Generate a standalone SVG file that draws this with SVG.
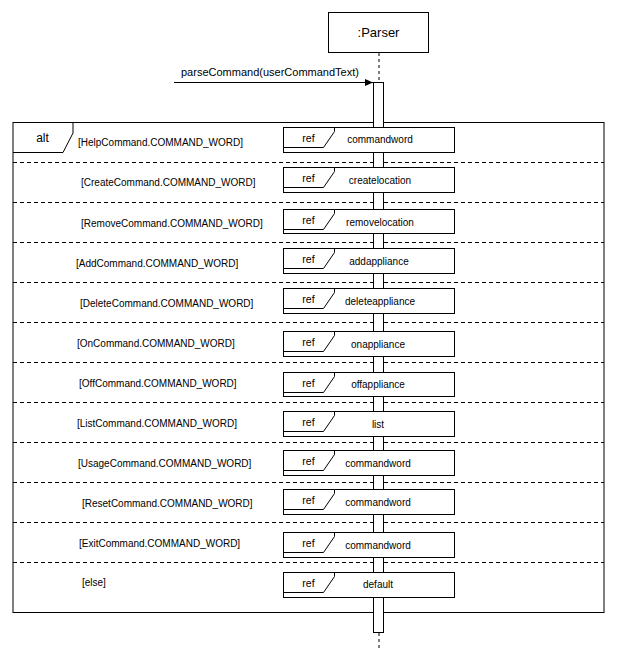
<svg xmlns="http://www.w3.org/2000/svg" width="617" height="661" viewBox="0 0 617 661">
<style>
text{font-family:"Liberation Sans",Arial,sans-serif;fill:#000}
.g{font-size:10px}
.lbl{font-size:10px;text-anchor:middle}
.ref{font-size:10.5px;text-anchor:middle}
.box{fill:#fff;stroke:#000;stroke-width:1}
.sep{stroke:#000;stroke-width:1;stroke-dasharray:4 3;fill:none}
.ln{fill:none;stroke:#000;stroke-width:1}
</style>
<defs>
<marker id="ah" markerWidth="9" markerHeight="8" refX="8" refY="3.5" orient="auto" markerUnits="userSpaceOnUse">
<path d="M0,0 L8,3.5 L0,7 Z" fill="#000"/>
</marker>
<g id="reftab"><path class="ln" d="M0,20 L40,20 L51,4 L51,0"/></g>
</defs>

<g id="parser">
<rect class="box" x="328.5" y="12.5" width="100" height="40"/>
<text x="378.5" y="37" font-size="13" text-anchor="middle">:Parser</text>
</g>

<g id="alt">
<rect x="13" y="122.5" width="591" height="490" fill="none" stroke="#000"/>
<path class="ln" d="M13,152.5 L63,152.5 L73,133 L73,122.5"/>
<text x="42.5" y="142" font-size="12" text-anchor="middle">alt</text>
<g id="separators">
<line class="sep" x1="13" y1="162.5" x2="604" y2="162.5"/>
<line class="sep" x1="13" y1="202.5" x2="604" y2="202.5"/>
<line class="sep" x1="13" y1="242.5" x2="604" y2="242.5"/>
<line class="sep" x1="13" y1="282.5" x2="604" y2="282.5"/>
<line class="sep" x1="13" y1="322.5" x2="604" y2="322.5"/>
<line class="sep" x1="13" y1="362.5" x2="604" y2="362.5"/>
<line class="sep" x1="13" y1="402.5" x2="604" y2="402.5"/>
<line class="sep" x1="13" y1="442.5" x2="604" y2="442.5"/>
<line class="sep" x1="13" y1="482.5" x2="604" y2="482.5"/>
<line class="sep" x1="13" y1="522.5" x2="604" y2="522.5"/>
<line class="sep" x1="13" y1="562.5" x2="604" y2="562.5"/>
</g>
<g id="guards">
<text class="g" x="78" y="146">[HelpCommand.COMMAND_WORD]</text>
<text class="g" x="81" y="186">[CreateCommand.COMMAND_WORD]</text>
<text class="g" x="81" y="226.5">[RemoveCommand.COMMAND_WORD]</text>
<text class="g" x="76" y="267">[AddCommand.COMMAND_WORD]</text>
<text class="g" x="80" y="306.5">[DeleteCommand.COMMAND_WORD]</text>
<text class="g" x="77" y="346.5">[OnCommand.COMMAND_WORD]</text>
<text class="g" x="79" y="386.5">[OffCommand.COMMAND_WORD]</text>
<text class="g" x="77" y="426.5">[ListCommand.COMMAND_WORD]</text>
<text class="g" x="78" y="466.5">[UsageCommand.COMMAND_WORD]</text>
<text class="g" x="82" y="506.5">[ResetCommand.COMMAND_WORD]</text>
<text class="g" x="79" y="546.5">[ExitCommand.COMMAND_WORD]</text>
<text class="g" x="82" y="585.5">[else]</text>
</g>
</g>

<g id="lifeline">
<line x1="379" y1="53" x2="379" y2="82" stroke="#000" stroke-dasharray="3 3"/>
<line x1="379" y1="633" x2="379" y2="650" stroke="#000" stroke-dasharray="3 3"/>
</g>

<g id="activation">
<rect class="box" x="373.5" y="82.5" width="10" height="550"/>
</g>

<g id="connectors">
<line x1="174" y1="82.5" x2="373" y2="82.5" stroke="#000" marker-end="url(#ah)"/>
<text x="181" y="76" font-size="11">parseCommand(userCommandText)</text>
</g>

<g id="ref-help"><rect class="box" x="283.5" y="127.5" width="171" height="25"/><use href="#reftab" x="283.5" y="127.5"/><text class="ref" x="308.5" y="142">ref</text><text class="lbl" x="380" y="143">commandword</text></g>
<g id="ref-create"><rect class="box" x="283.5" y="167.5" width="171" height="25"/><use href="#reftab" x="283.5" y="167.5"/><text class="ref" x="308.5" y="182">ref</text><text class="lbl" x="380" y="184">createlocation</text></g>
<g id="ref-remove"><rect class="box" x="283.5" y="209.5" width="171" height="24"/><use href="#reftab" x="283.5" y="209.5"/><text class="ref" x="308.5" y="224">ref</text><text class="lbl" x="380" y="226">removelocation</text></g>
<g id="ref-add"><rect class="box" x="283.5" y="248.5" width="171" height="25"/><use href="#reftab" x="283.5" y="248.5"/><text class="ref" x="308.5" y="263">ref</text><text class="lbl" x="379" y="265">addappliance</text></g>
<g id="ref-delete"><rect class="box" x="283.5" y="288.5" width="171" height="25"/><use href="#reftab" x="283.5" y="288.5"/><text class="ref" x="308.5" y="303">ref</text><text class="lbl" x="380" y="305">deleteappliance</text></g>
<g id="ref-on"><rect class="box" x="283.5" y="331.5" width="171" height="25"/><use href="#reftab" x="283.5" y="331.5"/><text class="ref" x="308.5" y="346">ref</text><text class="lbl" x="378" y="348">onappliance</text></g>
<g id="ref-off"><rect class="box" x="283.5" y="372.5" width="171" height="24"/><use href="#reftab" x="283.5" y="372.5"/><text class="ref" x="308.5" y="387">ref</text><text class="lbl" x="378" y="388">offappliance</text></g>
<g id="ref-list"><rect class="box" x="283.5" y="411.5" width="171" height="25"/><use href="#reftab" x="283.5" y="411.5"/><text class="ref" x="308.5" y="426">ref</text><text class="lbl" x="378" y="428">list</text></g>
<g id="ref-usage"><rect class="box" x="283.5" y="450.5" width="171" height="25"/><use href="#reftab" x="283.5" y="450.5"/><text class="ref" x="308.5" y="465">ref</text><text class="lbl" x="378" y="467">commandword</text></g>
<g id="ref-reset"><rect class="box" x="283.5" y="489.5" width="171" height="25"/><use href="#reftab" x="283.5" y="489.5"/><text class="ref" x="308.5" y="504">ref</text><text class="lbl" x="378" y="506">commandword</text></g>
<g id="ref-exit"><rect class="box" x="283.5" y="532.5" width="171" height="25"/><use href="#reftab" x="283.5" y="532.5"/><text class="ref" x="308.5" y="547">ref</text><text class="lbl" x="378" y="549">commandword</text></g>
<g id="ref-default"><rect class="box" x="283.5" y="572.5" width="171" height="25"/><use href="#reftab" x="283.5" y="572.5"/><text class="ref" x="308.5" y="587">ref</text><text class="lbl" x="378" y="588">default</text></g>
</svg>
